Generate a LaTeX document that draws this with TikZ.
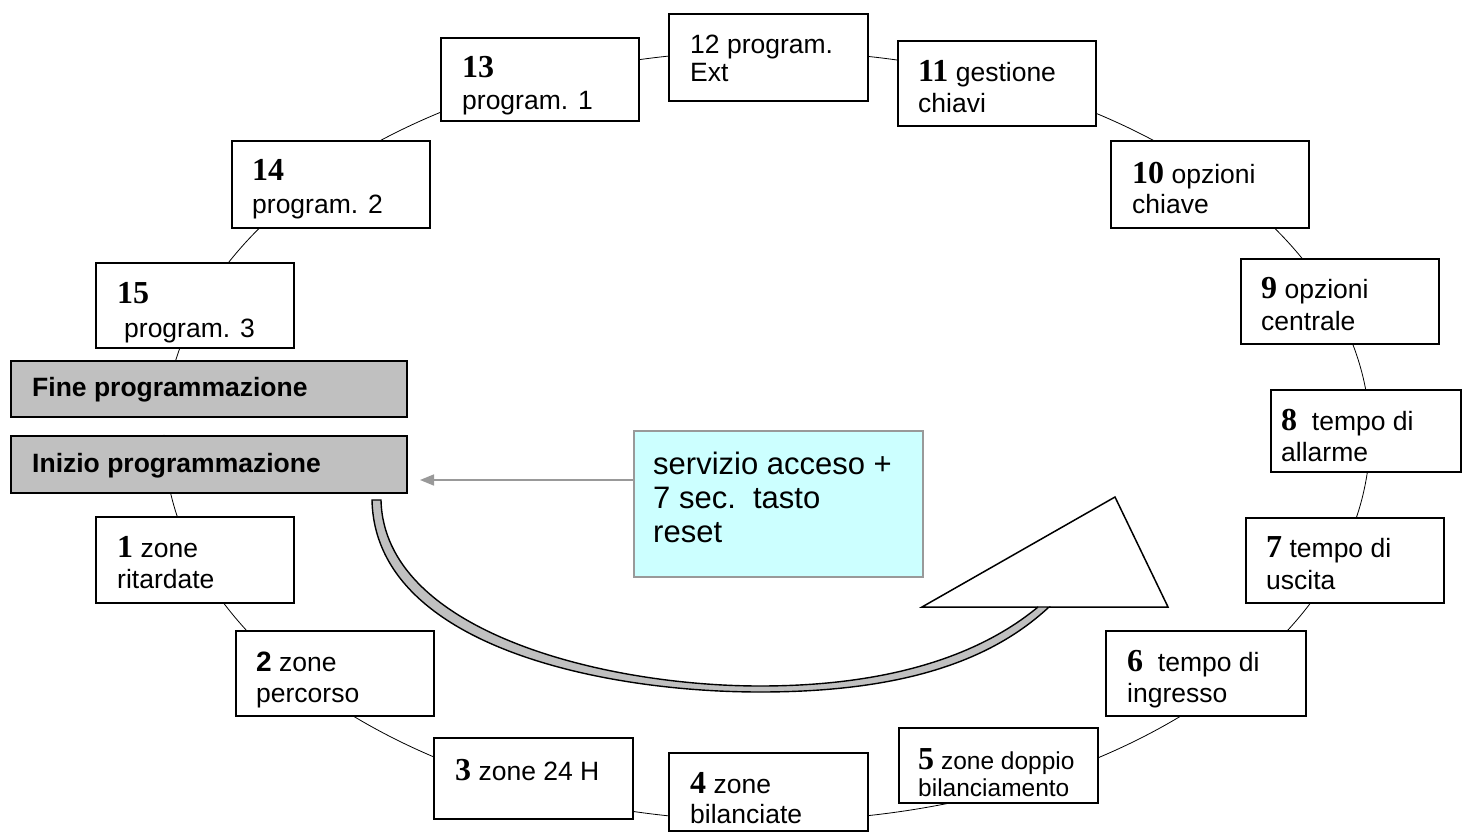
\documentclass[tikz,border=0pt]{standalone}
\usepackage{fontspec}
\setmainfont{Liberation Sans}
\newfontfamily\serifnum{Liberation Serif}
\usetikzlibrary{arrows.meta}
\newcommand\nm[1]{{\fontsize{32}{32}\selectfont\serifnum\bfseries #1}}
\definecolor{grayfill}{HTML}{C0C0C0}
\definecolor{cyanfill}{HTML}{CCFFFF}
\definecolor{linegray}{HTML}{999999}
\begin{document}
\begin{tikzpicture}[x=1pt,y=-1pt,
  box/.style={draw=black, line width=1.8pt, fill=white, rectangle, anchor=north west, inner sep=0pt},
  graybox/.style={box, fill=grayfill},
  cyanbox/.style={draw=linegray, line width=1.8pt, fill=cyanfill, rectangle, anchor=north west, inner sep=0pt},
  lbl/.style={anchor=base west, inner sep=0pt, font=\fontsize{26.5}{30}\selectfont},
  lblsm/.style={lbl, font=\fontsize{24.5}{28}\selectfont},
  lblbig/.style={lbl, font=\fontsize{31}{34}\selectfont},
  lblbold/.style={lbl, font=\fontsize{26.5}{30}\selectfont\bfseries},
  ring/.style={draw=black, line width=0.8pt},
  garrow/.style={draw=linegray, line width=1.6pt, -{Triangle[length=14pt,width=11pt]}}
]
\useasboundingbox (0,0) rectangle (1462,832);
\fill[white] (0,0) rectangle (1462,832);

% ring (open between Fine and Inizio)
\coordinate (rc) at (767,436);
\draw[ring] (rc) ++(182.98:603 and 385)
  arc[start angle=182.98, end angle=540.15, x radius=603, y radius=385];

% boxes
\node[box, minimum width=198, minimum height=83] (b13) at (440,37) {};
\node[box, minimum width=199, minimum height=87] (b12) at (668,13) {};
\node[box, minimum width=198, minimum height=85] (b11) at (897,40) {};
\node[box, minimum width=198, minimum height=87] (b10) at (1110,140) {};
\node[box, minimum width=198, minimum height=85] (b9) at (1240,258) {};
\node[box, minimum width=190, minimum height=82] (b8) at (1270,389) {};
\node[box, minimum width=198, minimum height=85] (b7) at (1245,517) {};
\node[box, minimum width=200, minimum height=85] (b6) at (1105,630) {};
\node[box, minimum width=199, minimum height=75] (b5) at (898,727) {};
\node[box, minimum width=199, minimum height=78] (b4) at (668,752) {};
\node[box, minimum width=199, minimum height=81] (b3) at (433,737) {};
\node[box, minimum width=198, minimum height=85] (b2) at (235,630) {};
\node[box, minimum width=198, minimum height=86] (b1) at (95,516) {};
\node[box, minimum width=198, minimum height=85] (b15) at (95,262) {};
\node[box, minimum width=198, minimum height=87] (b14) at (231,140) {};
\node[graybox, minimum width=396, minimum height=56] (fine) at (10,360) {};
\node[graybox, minimum width=396, minimum height=57] (inizio) at (10,435) {};
\node[cyanbox, minimum width=289, minimum height=146] (cyan) at (633,430) {};

% texts
\node[lbl] (t13a) at (462,78) {\nm{13}};
\node[lbl] (t13b) at (462,110) {program. 1};
\node[lbl] (t12a) at (690,54) {12 program.};
\node[lbl] (t12b) at (690,82) {Ext};
\node[lbl] (t11a) at (918,82) {\nm{11} gestione};
\node[lbl] (t11b) at (918,113) {chiavi};
\node[lbl] (t10a) at (1132,183) {\nm{10} opzioni};
\node[lbl] (t10b) at (1132,213) {chiave};
\node[lbl] (t9a) at (1261,298) {\nm{9} opzioni};
\node[lbl] (t9b) at (1261,330) {centrale};
\node[lbl] (t8a) at (1281,430) {\nm{8}\ \ tempo di};
\node[lbl] (t8b) at (1281,461) {allarme};
\node[lbl] (t7a) at (1266,557) {\nm{7} tempo di};
\node[lbl] (t7b) at (1266,589) {uscita};
\node[lbl] (t6a) at (1127,671) {\nm{6}\ \ tempo di};
\node[lbl] (t6b) at (1127,702) {ingresso};
\node[lblsm] (t5a) at (918,769) {\nm{5} zone doppio};
\node[lblsm] (t5b) at (918,796) {bilanciamento};
\node[lbl] (t4a) at (690,793) {\nm{4} zone};
\node[lbl] (t4b) at (690,823) {bilanciate};
\node[lbl] (t3a) at (455,780) {\nm{3} zone 24 H};
\node[lbl] (t2a) at (256,671) {{\fontsize{28}{28}\selectfont\bfseries 2} zone};
\node[lbl] (t2b) at (256,702) {percorso};
\node[lbl] (t1a) at (117,557) {\nm{1} zone};
\node[lbl] (t1b) at (117,588) {ritardate};
\node[lbl] (t15a) at (117,303) {\nm{15}};
\node[lbl] (t15b) at (124,337) {program. 3};
\node[lbl] (t14a) at (252,181) {\nm{14}};
\node[lbl] (t14b) at (252,213) {program. 2};
\node[lblbold] (tfine) at (32,396) {Fine programmazione};
\node[lblbold] (tiniz) at (32,472) {Inizio programmazione};
\node[lblbig] (tc1) at (653,474) {servizio acceso +};
\node[lblbig] (tc2) at (653,508) {7 sec.\ \ tasto};
\node[lblbig] (tc3) at (653,542) {reset};

% gray arrow from cyan box to Inizio
\coordinate (arrEnd) at (420,480);
\draw[garrow] (cyan.west |- arrEnd) -- (arrEnd);

% big curved arrow: head
\filldraw[fill=white, draw=black, line width=1.5pt, line join=miter]
  (1038,607) -- (922,607) -- (1115,497) -- (1168,607) -- (1049,607);
% band
\filldraw[fill=grayfill, draw=black, line width=1.4pt]
  (372,500) .. controls (375,645) and (600,692) .. (760,692)
  .. controls (900,692) and (990,662) .. (1049,607)
  -- (1038,607)
  .. controls (980,655) and (890,686) .. (760,686)
  .. controls (605,686) and (384,632) .. (381,500) -- cycle;
\end{tikzpicture}
\end{document}
